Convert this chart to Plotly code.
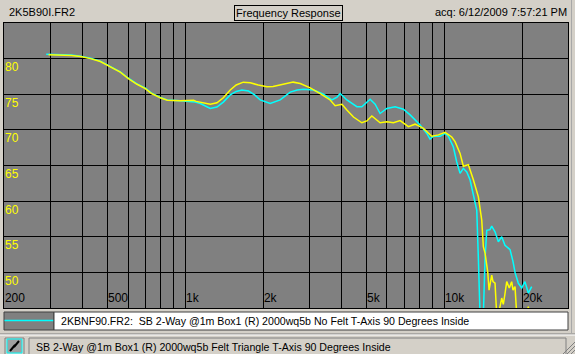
import math
import plotly.graph_objects as go

# ---------------- data ----------------
main_name = "2K5B90I.FR2"
main_desc = "SB 2-Way @1m Box1 (R) 2000wq5b Felt Triangle T-Axis 90 Degrees Inside"
overlay_name = "2KBNF90.FR2"
overlay_desc = "SB 2-Way @1m Box1 (R) 2000wq5b No Felt T-Axis 90 Degrees Inside"
chart_title = "Frequency Response"
acq_text = "acq: 6/12/2009 7:57:21 PM"

yellow_f = [296, 329, 362, 393, 430, 469, 513, 560, 602, 650,
            700, 740, 800, 851, 955, 1075, 1100, 1170, 1247, 1323,
            1400, 1489, 1570, 1672, 1779, 1910, 2063, 2180, 2322, 2606,
            2774, 3032, 3312, 3620, 3784, 4018, 4200, 4454, 4798, 5016,
            5244, 5482, 5644, 5992, 6354, 6742, 7258, 7702, 8296, 8936,
            9476, 10056, 10672, 10990, 11490, 11832, 12370, 12932, 13520, 13932,
            14134, 14350, 14700, 14870, 15226, 15400, 15680, 15918, 16250, 16640,
            16880, 17130, 17400, 17800, 18180, 18400, 18730, 19020, 19580, 20460,
            21080, 21400]
yellow_db = [80.55, 80.5, 80.45, 80.3, 80.0, 79.6, 78.9, 78.1, 77.2, 76.4,
             75.8, 75.1, 74.5, 74.15, 74.1, 74.15, 74.0, 73.8, 73.6, 73.8,
             74.5, 75.6, 76.3, 76.7, 76.6, 76.3, 76.06, 76.1, 76.3, 76.7,
             76.5, 75.9, 75.1, 74.2, 73.4, 73.6, 72.8, 71.8, 71.0, 71.25,
             71.95, 71.4, 71.0, 71.15, 71.0, 71.3, 70.45, 70.8, 70.2, 69.1,
             69.3, 69.65, 69.0, 68.35, 66.7, 64.9, 65.1, 63.0, 60.6, 57.35,
             53.6, 52.7, 50.0, 47.5, 49.6, 48.7, 48.5, 44.0, 44.5, 46.4,
             45.5, 47.0, 48.7, 47.8, 48.7, 47.5, 48.0, 44.0, 43.0, 43.0,
             45.2, 43.0]

cyan_f = [290, 329, 362, 393, 430, 469, 513, 560, 602, 650,
          700, 740, 800, 851, 955, 1050, 1091, 1141, 1200, 1247,
          1323, 1400, 1489, 1570, 1652, 1752, 1850, 1944, 2124, 2322,
          2538, 2700, 2856, 3122, 3412, 3676, 3850, 3958, 4200, 4590,
          4798, 5000, 5164, 5400, 5644, 5992, 6450, 6942, 7370, 8052,
          8548, 8800, 9064, 9618, 10056, 10354, 10826, 11156, 11490, 11832,
          12194, 12556, 12932, 13328, 13520, 13724, 14134, 14350, 14568, 15000,
          15226, 15450, 15680, 16148, 16640, 17130, 17400, 17920, 18400, 18730,
          19280, 19880, 20460, 21080, 21720]
cyan_db = [80.6, 80.55, 80.5, 80.35, 80.05, 79.65, 78.95, 78.15, 77.25, 76.45,
           75.85, 75.15, 74.55, 74.2, 74.1, 74.0, 73.9, 73.7, 73.35, 73.0,
           73.2, 73.9, 74.9, 75.4, 75.6, 75.45, 74.9, 74.2, 73.7, 74.2,
           75.3, 75.6, 75.7, 75.6, 75.0, 74.2, 74.6, 75.1, 74.2, 73.25,
           73.25, 73.8, 74.3, 73.6, 72.3, 73.0, 73.25, 72.9, 72.1, 70.7,
           69.5, 68.7, 69.1, 69.1, 69.5, 69.1, 67.6, 65.5, 63.9, 64.6,
           64.1, 63.0, 61.1, 58.75, 52.0, 44.0, 44.0, 52.0, 55.9, 56.0,
           56.5, 56.0, 55.7, 54.3, 55.0, 53.8, 53.6, 53.2, 51.5, 50.0,
           48.5, 47.8, 48.7, 47.1, 48.0]

x_tick_vals = [200, 300, 400, 500, 600, 700, 800, 900, 1000, 2000, 3000,
               4000, 5000, 6000, 7000, 8000, 9000, 10000, 20000]
x_tick_text = ["200", "", "", "500", "", "", "", "", "1k", "2k", "", "",
               "5k", "", "", "", "", "10k", "20k"]
y_tick_vals = [50, 55, 60, 65, 70, 75, 80]
y_tick_text = ["50", "55", "60", "65", "70", "75", "80"]
x_range = [199.2, 30000]
y_range = [45, 85]

# ---------------- layout geometry ----------------
W, H = 575, 354
ML, MR, MT, MB = 4, 7, 23, 46
PW, PH = W - ML - MR, H - MT - MB
FONT = "Arial, Liberation Sans, sans-serif"
BG = "#d4d0c8"
PLOT_BG = "#808080"
TXT = 10.6


def PX(x):
    return (x - ML) / PW


def PY(y):
    return (H - MB - y) / PH


fig = go.Figure()
fig.add_trace(go.Scatter(x=cyan_f, y=cyan_db, mode="lines", name=overlay_name,
                         line=dict(color="#00ffff", width=1.5), showlegend=False))
fig.add_trace(go.Scatter(x=yellow_f, y=yellow_db, mode="lines", name=main_name,
                         line=dict(color="#ffff00", width=1.5), showlegend=False))

shapes = []
ann = []

# top header
ann.append(dict(x=PX(7), y=PY(12), xref="paper", yref="paper", text=main_name,
                showarrow=False, xanchor="left", yanchor="middle",
                font=dict(family=FONT, size=11, color="black")))
ann.append(dict(x=PX(288.5), y=PY(12.5), xref="paper", yref="paper", text=chart_title,
                showarrow=False, xanchor="center", yanchor="middle",
                bordercolor="black", borderwidth=1, borderpad=1,
                font=dict(family=FONT, size=11, color="black")))
ann.append(dict(x=PX(569), y=PY(12), xref="paper", yref="paper", text=acq_text,
                showarrow=False, xanchor="right", yanchor="middle",
                font=dict(family=FONT, size=11, color="black")))

# right window edge
shapes.append(dict(type="line", xref="paper", yref="paper", x0=PX(571.5), x1=PX(571.5),
                   y0=PY(0), y1=PY(333), line=dict(color="#a8a8a8", width=1)))

# legend row
shapes.append(dict(type="rect", xref="paper", yref="paper", x0=PX(4), x1=PX(54),
                   y0=PY(312), y1=PY(330), fillcolor=PLOT_BG,
                   line=dict(color="#404040", width=1)))
shapes.append(dict(type="line", xref="paper", yref="paper", x0=PX(4.5), x1=PX(53.5),
                   y0=PY(320.5), y1=PY(320.5), line=dict(color="#00ffff", width=1.5)))
shapes.append(dict(type="rect", xref="paper", yref="paper", x0=PX(54), x1=PX(568),
                   y0=PY(312), y1=PY(330), fillcolor="white",
                   line=dict(color="#404040", width=1)))
ann.append(dict(x=PX(59), y=PY(321), xref="paper", yref="paper",
                text=overlay_name + ":  " + overlay_desc,
                showarrow=False, xanchor="left", yanchor="middle",
                font=dict(family=FONT, size=TXT, color="black")))

# separator above status bar
shapes.append(dict(type="line", xref="paper", yref="paper", x0=PX(0), x1=PX(575),
                   y0=PY(334), y1=PY(334), line=dict(color="#808080", width=1)))
shapes.append(dict(type="line", xref="paper", yref="paper", x0=PX(0), x1=PX(575),
                   y0=PY(335), y1=PY(335), line=dict(color="white", width=1)))

# status bar icon
shapes.append(dict(type="rect", xref="paper", yref="paper", x0=PX(5), x1=PX(24),
                   y0=PY(338), y1=PY(356), fillcolor=BG,
                   line=dict(color="#808080", width=1)))
shapes.append(dict(type="rect", xref="paper", yref="paper", x0=PX(7), x1=PX(22),
                   y0=PY(339), y1=PY(353), fillcolor="#a0a0a0",
                   line=dict(color="#00ffff", width=1)))
shapes.append(dict(type="path", xref="paper", yref="paper",
                   path="M %f,%f L %f,%f L %f,%f L %f,%f" % (PX(10), PY(351), PX(15), PY(345),
                                                             PX(14), PY(347), PX(19), PY(341)),
                   line=dict(color="black", width=2)))
# status text box
shapes.append(dict(type="rect", xref="paper", yref="paper", x0=PX(29), x1=PX(566),
                   y0=PY(338), y1=PY(356), fillcolor=BG,
                   line=dict(color="#808080", width=1)))
ann.append(dict(x=PX(34), y=PY(346.5), xref="paper", yref="paper", text=main_desc,
                showarrow=False, xanchor="left", yanchor="middle",
                font=dict(family=FONT, size=TXT, color="black")))
# resize grip
for k in (4, 8, 12):
    shapes.append(dict(type="line", xref="paper", yref="paper", x0=PX(575 - k), x1=PX(575),
                       y0=PY(354), y1=PY(354 - k), line=dict(color="#808080", width=1)))

fig.update_layout(
    width=W, height=H,
    margin=dict(l=ML, r=MR, t=MT, b=MB, pad=0),
    paper_bgcolor=BG, plot_bgcolor=PLOT_BG,
    showlegend=False,
    shapes=shapes, annotations=ann,
    font=dict(family=FONT, size=11),
)
fig.update_xaxes(type="log", range=[math.log10(x_range[0]), math.log10(x_range[1])],
                 tickmode="array", tickvals=x_tick_vals, ticktext=x_tick_text,
                 ticklabelposition="inside right", ticklabeloverflow="allow", ticks="",
                 tickfont=dict(family=FONT, size=12, color="black"),
                 showgrid=True, gridcolor="black", gridwidth=1,
                 showline=True, linecolor="black", linewidth=1, mirror=True,
                 zeroline=False, fixedrange=True)
fig.update_yaxes(range=y_range, tickmode="array", tickvals=y_tick_vals, ticktext=y_tick_text,
                 ticklabelposition="inside bottom", ticklabeloverflow="allow", ticks="",
                 tickfont=dict(family=FONT, size=12, color="#ffff00"),
                 showgrid=True, gridcolor="black", gridwidth=1,
                 showline=True, linecolor="black", linewidth=1, mirror=True,
                 zeroline=False, fixedrange=True)

fig.write_html("out.html", config={"displayModeBar": False})
